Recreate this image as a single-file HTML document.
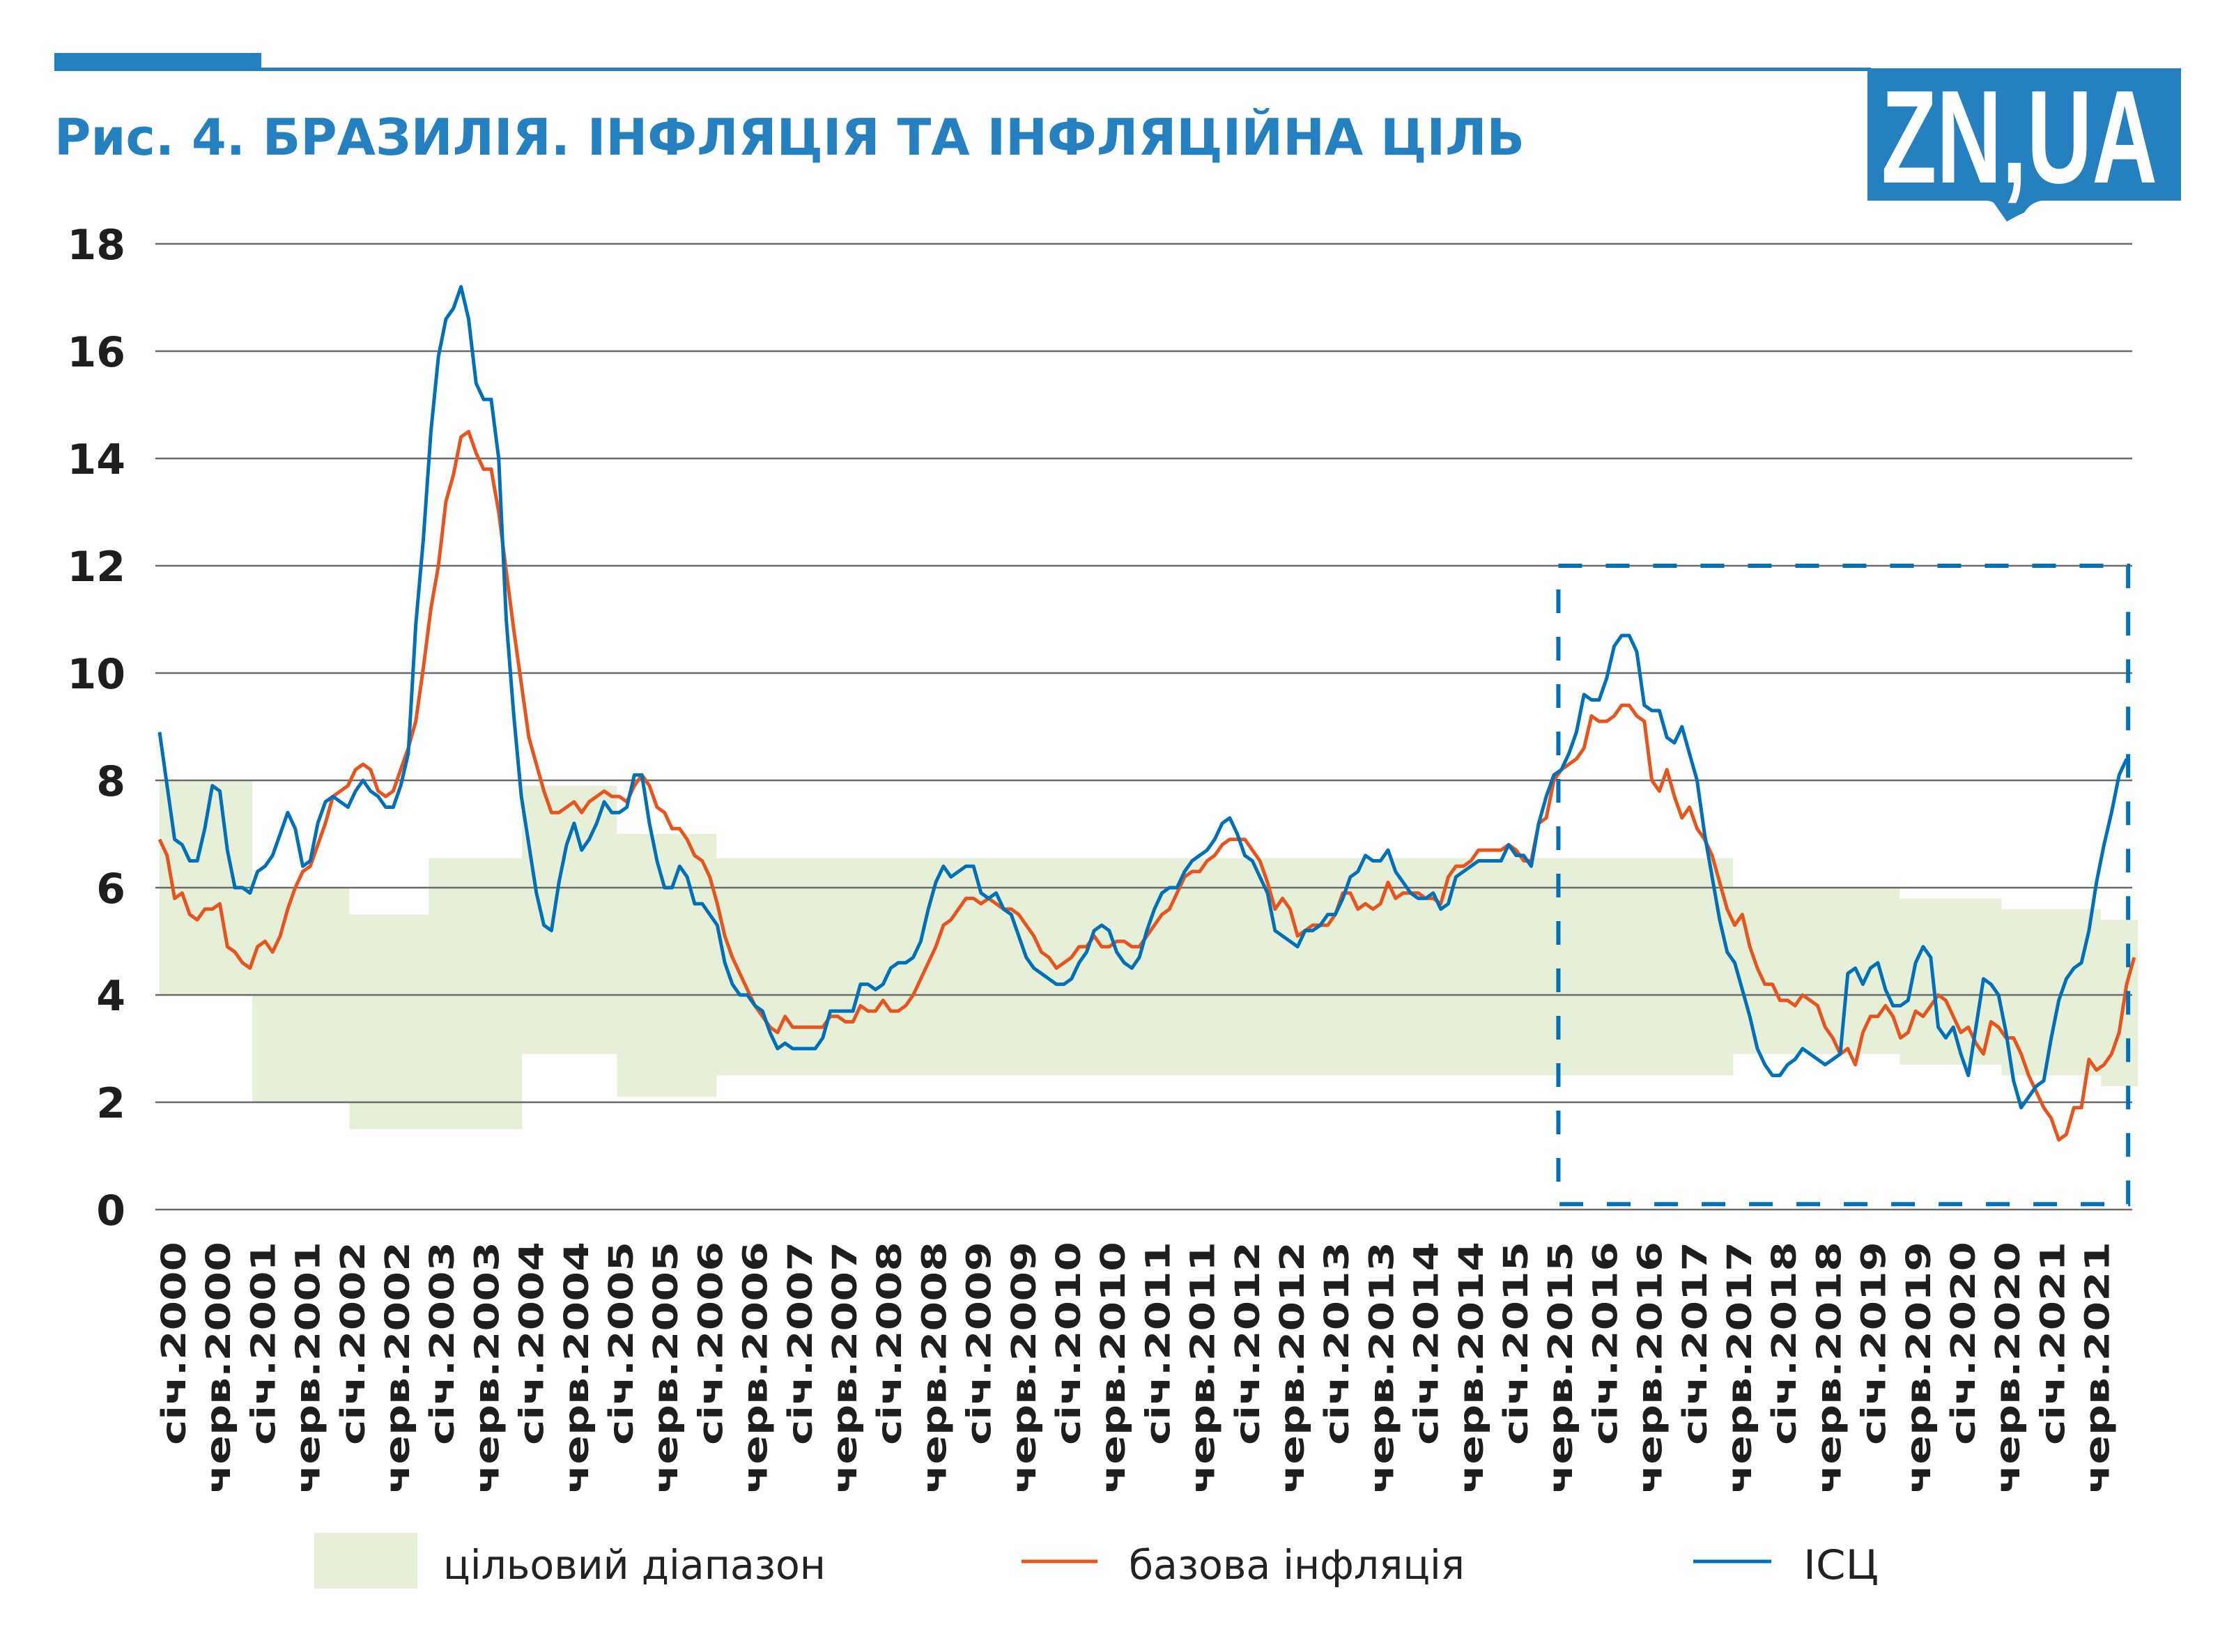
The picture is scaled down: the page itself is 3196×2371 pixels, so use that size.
<!DOCTYPE html>
<html><head><meta charset="utf-8"><style>
html,body{margin:0;padding:0;background:#fff;}
svg{display:block;}
text{font-family:"DejaVu Sans","Liberation Sans",sans-serif;}
</style></head><body>
<svg id="chart" width="3196" height="2371" viewBox="0 0 3196 2371" xmlns="http://www.w3.org/2000/svg">
<rect x="78" y="76" width="297" height="26" fill="#2580bf"/>
<rect x="375" y="97" width="2310" height="5" fill="#2580bf"/>
<g>
<path d="M2680 98 H3130 V288 H2930 Q2915 290 2905 305 Q2890 312 2880 318 L2862 292 Q2858 288 2850 288 H2680 Z" fill="#2580bf"/>
<text x="2700" y="262" fill="#fff" font-family="'Liberation Sans Narrow','Liberation Sans',sans-serif" font-weight="bold" font-size="190" textLength="396" lengthAdjust="spacingAndGlyphs" style="font-family:'Liberation Sans Narrow','Liberation Sans',sans-serif">ZN,UA</text>
</g>
<text x="78" y="222" fill="#2580bf" font-weight="bold" font-size="72" textLength="2110" lengthAdjust="spacingAndGlyphs">Рис. 4. БРАЗИЛІЯ. ІНФЛЯЦІЯ ТА ІНФЛЯЦІЙНА ЦІЛЬ</text>
<g id="targets"></g>
<g id="grid"></g>
<g id="series"></g>
<g id="xlabels"></g>
<g id="highlight"></g>
<g>
<rect x="451" y="2200" width="148" height="80" fill="#e6f0d8"/>
<text x="636" y="2266" font-size="58" fill="#222" textLength="549" lengthAdjust="spacingAndGlyphs">цільовий діапазон</text>
<line x1="1466" y1="2241" x2="1575" y2="2241" stroke="#e8541e" stroke-width="5"/>
<text x="1620" y="2266" font-size="58" fill="#222" textLength="482" lengthAdjust="spacingAndGlyphs">базова інфляція</text>
<line x1="2430" y1="2241" x2="2542" y2="2241" stroke="#0070b8" stroke-width="5"/>
<text x="2588" y="2266" font-size="58" fill="#222" textLength="108" lengthAdjust="spacingAndGlyphs">ІСЦ</text>
</g>
</svg>
<script>
const cpi=[8.9,7.9,6.9,6.8,6.5,6.5,7.1,7.9,7.8,6.7,6.0,6.0,5.9,6.3,6.4,6.6,7.0,7.4,7.1,6.4,6.5,7.2,7.6,7.7,7.6,7.5,7.8,8.0,7.8,7.7,7.5,7.5,7.9,8.5,10.9,12.5,14.5,15.9,16.6,16.8,17.2,16.6,15.4,15.1,15.1,14.0,11.0,9.2,7.7,6.8,5.9,5.3,5.2,6.1,6.8,7.2,6.7,6.9,7.2,7.6,7.4,7.4,7.5,8.1,8.1,7.2,6.5,6.0,6.0,6.4,6.2,5.7,5.7,5.5,5.3,4.6,4.2,4.0,4.0,3.8,3.7,3.3,3.0,3.1,3.0,3.0,3.0,3.0,3.2,3.7,3.7,3.7,3.7,4.2,4.2,4.1,4.2,4.5,4.6,4.6,4.7,5.0,5.6,6.1,6.4,6.2,6.3,6.4,6.4,5.9,5.8,5.9,5.6,5.5,5.1,4.7,4.5,4.4,4.3,4.2,4.2,4.3,4.6,4.8,5.2,5.3,5.2,4.8,4.6,4.5,4.7,5.2,5.6,5.9,6.0,6.0,6.3,6.5,6.6,6.7,6.9,7.2,7.3,7.0,6.6,6.5,6.2,5.9,5.2,5.1,5.0,4.9,5.2,5.2,5.3,5.5,5.5,5.8,6.2,6.3,6.6,6.5,6.5,6.7,6.3,6.1,5.9,5.8,5.8,5.9,5.6,5.7,6.2,6.3,6.4,6.5,6.5,6.5,6.5,6.8,6.6,6.6,6.4,7.2,7.7,8.1,8.2,8.5,8.9,9.6,9.5,9.5,9.9,10.5,10.7,10.7,10.4,9.4,9.3,9.3,8.8,8.7,9.0,8.5,8.0,7.0,6.2,5.4,4.8,4.6,4.1,3.6,3.0,2.7,2.5,2.5,2.7,2.8,3.0,2.9,2.8,2.7,2.8,2.9,4.4,4.5,4.2,4.5,4.6,4.1,3.8,3.8,3.9,4.6,4.9,4.7,3.4,3.2,3.4,2.9,2.5,3.4,4.3,4.2,4.0,3.3,2.4,1.9,2.1,2.3,2.4,3.2,3.9,4.3,4.5,4.6,5.2,6.1,6.8,7.4,8.1,8.4];
const core=[6.9,6.6,5.8,5.9,5.5,5.4,5.6,5.6,5.7,4.9,4.8,4.6,4.5,4.9,5.0,4.8,5.1,5.6,6.0,6.3,6.4,6.8,7.2,7.7,7.8,7.9,8.2,8.3,8.2,7.8,7.7,7.8,8.2,8.6,9.1,10.1,11.2,12.0,13.2,13.7,14.4,14.5,14.1,13.8,13.8,13.0,11.9,10.8,9.8,8.8,8.3,7.8,7.4,7.4,7.5,7.6,7.4,7.6,7.7,7.8,7.7,7.7,7.6,7.9,8.1,7.9,7.5,7.4,7.1,7.1,6.9,6.6,6.5,6.2,5.7,5.1,4.7,4.4,4.1,3.8,3.6,3.4,3.3,3.6,3.4,3.4,3.4,3.4,3.4,3.6,3.6,3.5,3.5,3.8,3.7,3.7,3.9,3.7,3.7,3.8,4.0,4.3,4.6,4.9,5.3,5.4,5.6,5.8,5.8,5.7,5.8,5.7,5.6,5.6,5.5,5.3,5.1,4.8,4.7,4.5,4.6,4.7,4.9,4.9,5.1,4.9,4.9,5.0,5.0,4.9,4.9,5.1,5.3,5.5,5.6,5.9,6.2,6.3,6.3,6.5,6.6,6.8,6.9,6.9,6.9,6.7,6.5,6.1,5.6,5.8,5.6,5.1,5.2,5.3,5.3,5.3,5.5,5.9,5.9,5.6,5.7,5.6,5.7,6.1,5.8,5.9,5.9,5.9,5.8,5.8,5.7,6.2,6.4,6.4,6.5,6.7,6.7,6.7,6.7,6.8,6.7,6.5,6.5,7.2,7.3,8.0,8.2,8.3,8.4,8.6,9.2,9.1,9.1,9.2,9.4,9.4,9.2,9.1,8.0,7.8,8.2,7.7,7.3,7.5,7.1,6.9,6.6,6.1,5.6,5.3,5.5,4.9,4.5,4.2,4.2,3.9,3.9,3.8,4.0,3.9,3.8,3.4,3.2,2.9,3.0,2.7,3.3,3.6,3.6,3.8,3.6,3.2,3.3,3.7,3.6,3.8,4.0,3.9,3.6,3.3,3.4,3.1,2.9,3.5,3.4,3.2,3.2,2.9,2.5,2.2,1.9,1.7,1.3,1.4,1.9,1.9,2.8,2.6,2.7,2.9,3.3,4.2,4.7];
const targetStart=[0,12.3,25.2,35.7,48.1,60.7,73.9,208.8,230.9,244.4,257.6];
const targetEnd=[12.3,25.2,35.7,48.1,60.7,73.9,208.8,230.9,244.4,257.6,262.5];
const targetLow=[4,2,1.5,1.5,2.9,2.1,2.5,2.9,2.7,2.5,2.3];
const targetHigh=[8,6,5.5,6.55,7.9,7.0,6.55,6.0,5.8,5.6,5.4];
const yTicks=[0,2,4,6,8,10,12,14,16,18];
const xTickLabels=[];for(let y=2000;y<=2021;y++){xTickLabels.push('січ.'+y);xTickLabels.push('черв.'+y);}
const highlightMonths=[185.6,261.2];
const highlightValues=[0.1,12.0];

const NS='http://www.w3.org/2000/svg';
const X0=229,XM=10.816,Y0=1736,YU=77.0;
function x(m){return X0+m*XM;}
function y(v){return Y0-v*YU;}
function xl(k){return 266+k*64.2;}
function mk(tag,attrs,parent){const e=document.createElementNS(NS,tag);for(const k in attrs)e.setAttribute(k,attrs[k]);parent.appendChild(e);return e;}

const gT=document.getElementById('targets');
for(let i=0;i<targetStart.length;i++){
  const r=mk('rect',{x:x(targetStart[i]),y:y(targetHigh[i]),width:x(targetEnd[i])-x(targetStart[i]),height:y(targetLow[i])-y(targetHigh[i]),fill:'#e6f0d8'},gT);
  
  
}
const gG=document.getElementById('grid');
yTicks.forEach(v=>{
  const l=mk('line',{x1:223,x2:3060,y1:y(v),y2:y(v),stroke:'#6a6a6a','stroke-width':2.5},gG);
  
  
  const t=mk('text',{x:180,y:y(v)+22,'text-anchor':'end','font-size':60,'font-weight':'bold',fill:'#1e1e1e'},gG);
  t.textContent=v;
  
  
});
const gS=document.getElementById('series');
function line(data,color,name){
  const pts=data.map((v,i)=>x(i).toFixed(1)+','+y(v).toFixed(1)).join(' ');
  const p=mk('polyline',{points:pts,fill:'none',stroke:color,'stroke-width':5,'stroke-linejoin':'round'},gS);
  
  
}
line(core,'#e8541e','core-inflation-line');
line(cpi,'#0070b8','cpi-line');
const gX=document.getElementById('xlabels');
xTickLabels.forEach((lab,k)=>{
  const px=xl(k), py=1782;
  const t=mk('text',{x:px,y:py,transform:'rotate(-90 '+px+' '+py+')','text-anchor':'end','font-size':48,'font-weight':'bold',fill:'#1e1e1e',textLength:lab.startsWith('черв')?362:292,lengthAdjust:'spacingAndGlyphs'},gX);
  t.textContent=lab;
  
  
});
const gH=document.getElementById('highlight');
const hb=mk('rect',{x:x(highlightMonths[0]),y:y(highlightValues[1]),width:x(highlightMonths[1])-x(highlightMonths[0]),height:y(highlightValues[0])-y(highlightValues[1]),fill:'none',stroke:'#0070b8','stroke-width':6,'stroke-dasharray':'34 34'},gH);


</script>
</body></html>
